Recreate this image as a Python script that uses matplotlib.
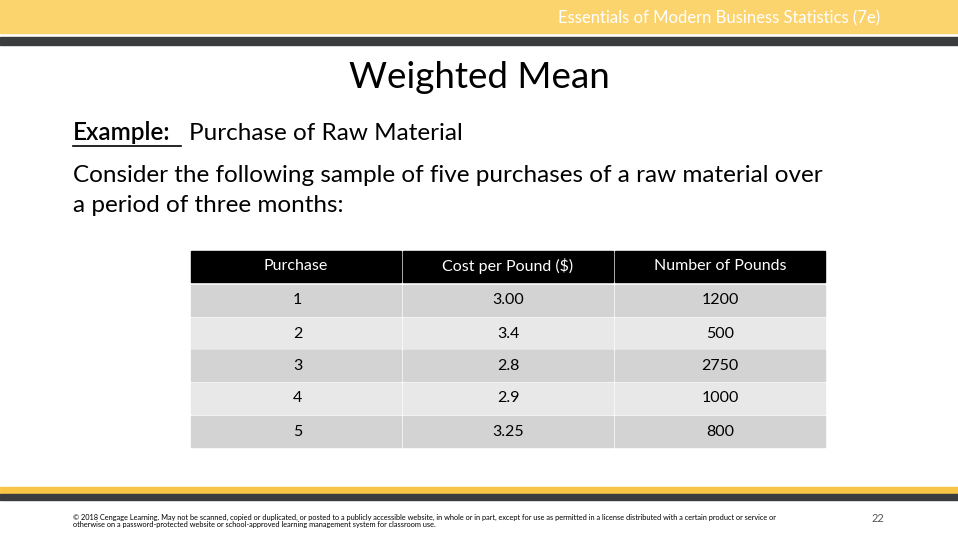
import matplotlib
matplotlib.use("Agg")
import matplotlib.pyplot as plt
from matplotlib.patches import Rectangle

headers = ["Purchase", "Cost per Pound ($)", "Number of Pounds"]
purchase = ["1", "2", "3", "4", "5"]
cost = ["3.00", "3.4", "2.8", "2.9", "3.25"]
pounds = ["1200", "500", "2750", "1000", "800"]

plt.rcParams['font.family'] = ['Lato', 'DejaVu Sans']

fig = plt.figure(figsize=(9.58, 5.4), dpi=100)
ax = fig.add_axes([0, 0, 1, 1])
ax.set_xlim(0, 958)
ax.set_ylim(540, 0)
ax.axis("off")

# header / footer bars
ax.add_patch(Rectangle((0, 0), 958, 33, color="#fcd46e"))
ax.add_patch(Rectangle((0, 37), 958, 8, color="#3a3c3d"))
ax.add_patch(Rectangle((0, 487), 958, 7, color="#f8c547"))
ax.add_patch(Rectangle((0, 494), 958, 6, color="#3a3c3d"))
ax.text(880, 18, "Essentials of Modern Business Statistics (7e)", color="white",
        fontsize=12, ha="right", va="center")

ax.text(479, 78, "Weighted Mean", fontsize=26.5, ha="center", va="center")
ax.text(73, 133, "Example:", fontsize=17.5, va="center", fontweight="semibold")
ax.plot([73, 181], [146, 146], color="black", lw=1.2)
ax.text(189, 133, "Purchase of Raw Material", fontsize=17.5, va="center")
ax.text(73, 175, "Consider the following sample of five purchases of a raw material over",
        fontsize=17.5, va="center")
ax.text(73, 206, "a period of three months:", fontsize=17.5, va="center")

# table
col_x = [191, 403, 615]
col_w = 210
row_y = [251, 285, 318, 350, 383, 416]
row_h = 31
for j, h in enumerate(headers):
    ax.add_patch(Rectangle((col_x[j], row_y[0]), col_w, row_h, color="black"))
    ax.text(col_x[j] + col_w / 2, row_y[0] + row_h / 2, h, color="white",
            fontsize=11.5, ha="center", va="center")
for i in range(len(purchase)):
    fc = "#d3d3d3" if i % 2 == 0 else "#e8e8e8"
    vals = [purchase[i], cost[i], pounds[i]]
    for j in range(3):
        y = row_y[i + 1]
        ax.add_patch(Rectangle((col_x[j], y), col_w, row_h, color=fc))
        tx = col_x[j] + col_w / 2 if j else 293
        ax.text(tx, y + row_h / 2, vals[j], fontsize=11.5,
                ha="center" if j else "left", va="center")

ax.text(73, 517, "© 2018 Cengage Learning. May not be scanned, copied or duplicated, or posted to a publicly accessible website, in whole or in part, except for use as permitted in a license distributed with a certain product or service or",
        fontsize=5.3, va="center")
ax.text(73, 525, "otherwise on a password-protected website or school-approved learning management system for classroom use.",
        fontsize=5.3, va="center")
ax.text(878, 519, "22", fontsize=8, ha="center", va="center", color="#555555")

fig.savefig("out.png", dpi=100)
